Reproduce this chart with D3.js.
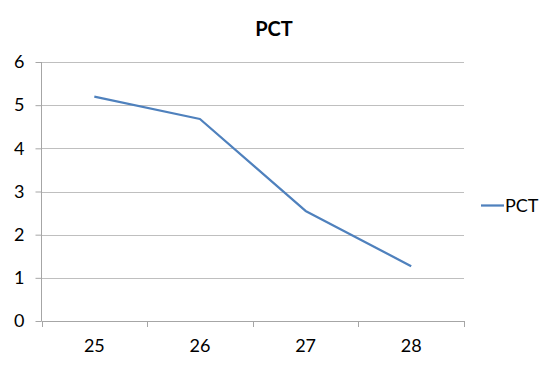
<!DOCTYPE html>
<html><head><meta charset="utf-8">
<script src="https://cdn.jsdelivr.net/npm/d3@7/dist/d3.min.js"></script>
<style>body{margin:0;background:#fff}svg{display:block}</style>
</head><body>
<svg id="c" width="553" height="371"></svg>
<script>
const categories = ["25", "26", "27", "28"];
const values = [5.2, 4.68, 2.55, 1.27];
const yTicks = [0, 1, 2, 3, 4, 5, 6];
const seriesName = "PCT";
const title = "PCT";

(function () {
const font = "Lato, 'Open Sans', sans-serif";
const svg = d3.select("#c");
const pLeft = 41.5, pRight = 464, pTop = 62, pBottom = 321;

const x = d3.scaleBand().domain(categories).range([pLeft, pRight]);
const y = d3.scaleLinear().domain([0, 6]).range([pBottom, pTop]);

// gridlines
svg.append("g").selectAll("line").data(yTicks.filter(d => d > 0)).join("line")
  .attr("x1", pLeft).attr("x2", pRight)
  .attr("y1", d => Math.round(y(d)) + 0.5).attr("y2", d => Math.round(y(d)) + 0.5)
  .attr("stroke", "#bfbfbf").attr("stroke-width", 1);

// y axis
const yAxis = svg.append("g").attr("transform", `translate(${pLeft},0)`)
  .call(d3.axisLeft(y).tickValues(yTicks).tickSize(6).tickPadding(11).tickFormat(d3.format("d")));
yAxis.select(".domain").remove();
yAxis.selectAll(".tick line").attr("stroke", "#a6a6a6");
yAxis.selectAll("text").attr("font-family", font).attr("font-size", 18).attr("fill", "#000");
svg.append("line").attr("x1", pLeft).attr("x2", pLeft).attr("y1", pTop).attr("y2", pBottom)
  .attr("stroke", "#a6a6a6");

// x axis
const xAxis = svg.append("g").attr("transform", `translate(0,${pBottom})`)
  .call(d3.axisBottom(x).tickSize(0).tickPadding(18));
xAxis.select(".domain").attr("stroke", "#a6a6a6").attr("d", `M${pLeft},0.5H${pRight}`);
xAxis.selectAll("text").attr("font-family", font).attr("font-size", 18).attr("fill", "#000");
const bounds = categories.map(c => x(c)).concat([pRight]);
svg.append("g").selectAll("line").data(bounds).join("line")
  .attr("x1", d => Math.round(d) + 0.5).attr("x2", d => Math.round(d) + 0.5)
  .attr("y1", pBottom).attr("y2", pBottom + 6).attr("stroke", "#a6a6a6");

// line
const line = d3.line().x((d, i) => x(categories[i]) + x.bandwidth() / 2).y(d => y(d));
svg.append("path").datum(values).attr("d", line)
  .attr("fill", "none").attr("stroke", "#4f81bd").attr("stroke-width", 2.25)
  .attr("stroke-linejoin", "round");

// title
svg.append("text").attr("x", 274).attr("y", 36).attr("text-anchor", "middle")
  .attr("font-family", font).attr("font-weight", "bold").attr("font-size", 20).text(title);

// legend
svg.append("line").attr("x1", 481).attr("x2", 504).attr("y1", 205.5).attr("y2", 205.5)
  .attr("stroke", "#4f81bd").attr("stroke-width", 2.25);
svg.append("text").attr("x", 505).attr("y", 212).attr("font-family", font).attr("font-size", 18)
  .text(seriesName);
})();
</script>
</body></html>
